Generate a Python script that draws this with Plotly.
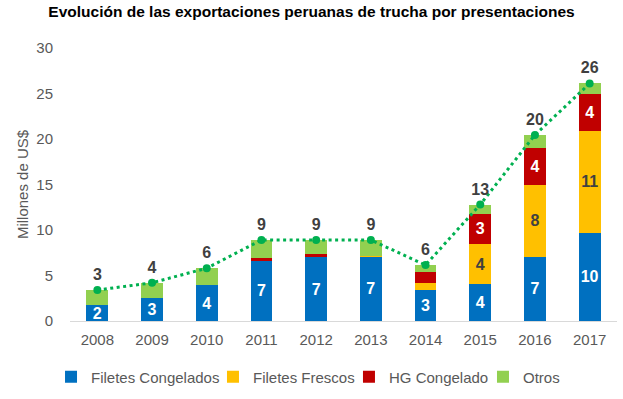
import plotly.graph_objects as go

years = ["2008", "2009", "2010", "2011", "2012", "2013", "2014", "2015", "2016", "2017"]
filetes_congelados = [1.75, 2.55, 3.95, 6.7, 7.0, 7.05, 3.4, 4.05, 7.05, 9.7]
filetes_frescos = [0, 0, 0, 0, 0, 0.1, 0.8, 4.4, 7.95, 11.2]
hg_congelado = [0, 0, 0, 0.2, 0.4, 0, 1.2, 3.35, 4.05, 4.05]
otros = [1.65, 1.65, 1.85, 2.0, 1.5, 1.75, 0.75, 1.0, 1.4, 1.15]
totales = [round(a + b + c + d, 2) for a, b, c, d in zip(filetes_congelados, filetes_frescos, hg_congelado, otros)]

FONT = "Liberation Sans, Arial, sans-serif"
GRAY = "#595959"


def labels(vals, threshold):
    return [f"{v:.0f}" if v >= threshold else "" for v in vals]


fig = go.Figure()
series = [
    ("Filetes Congelados", filetes_congelados, "#0070C0", "white", 1.0, "legend"),
    ("Filetes Frescos", filetes_frescos, "#FFC000", "#404040", 3.0, "legend2"),
    ("HG Congelado", hg_congelado, "#C00000", "white", 3.0, "legend3"),
    ("Otros", otros, "#92D050", "white", 99, "legend4"),
]
for name, vals, color, tcolor, thr, leg in series:
    fig.add_trace(go.Bar(
        x=years, y=vals, name=name, legend=leg,
        marker=dict(color=color, line=dict(width=0)),
        text=labels(vals, thr), textposition="inside", insidetextanchor="middle",
        textangle=0,
        textfont=dict(family=FONT, size=16, color=tcolor, weight="bold"),
        hoverinfo="skip",
    ))

fig.add_trace(go.Scatter(
    x=years, y=totales, mode="lines+markers+text",
    line=dict(color="#00B050", width=3, dash="3px,3.5px"),
    marker=dict(color="#00B050", size=8),
    text=[f"{v:.0f}" for v in totales], textposition="top center",
    textfont=dict(family=FONT, size=16, color="#404040", weight="bold"),
    showlegend=False, hoverinfo="skip",
))

leg_common = dict(orientation="h", xanchor="left", y=-0.145, yanchor="top",
                  itemwidth=30, bgcolor="rgba(0,0,0,0)",
                  font=dict(family=FONT, size=15, color=GRAY))

fig.update_layout(
    barmode="stack",
    bargap=0.6,
    width=623, height=399,
    margin=dict(l=70, r=6, t=48, b=78, autoexpand=False),
    paper_bgcolor="white", plot_bgcolor="white",
    font=dict(family=FONT, size=15, color=GRAY),
    title=dict(text="<b>Evolución de las exportaciones peruanas de trucha por presentaciones</b>",
               x=0.5, xanchor="center", y=0.97, yanchor="middle",
               font=dict(family=FONT, size=15.5, color="#000000")),
    uniformtext=dict(minsize=16, mode="show"),
    legend=dict(x=-0.0347, **leg_common),
    legend2=dict(x=0.2614, **leg_common),
    legend3=dict(x=0.5100, **leg_common),
    legend4=dict(x=0.7550, **leg_common),
    xaxis=dict(range=[-0.5, 9.5], showgrid=False, showline=True, linecolor="#D9D9D9", linewidth=1,
               ticks="", ticklabelstandoff=5,
               tickfont=dict(family=FONT, size=15, color=GRAY), automargin=False),
    yaxis=dict(range=[0, 30], tickvals=[0, 5, 10, 15, 20, 25, 30], showgrid=False,
               zeroline=False, showline=False, ticks="", ticklabelstandoff=16,
               tickfont=dict(family=FONT, size=15, color=GRAY), automargin=False,
               title=dict(text="Millones de US$", font=dict(family=FONT, size=15, color=GRAY), standoff=4)),
)

fig.write_html("out.html", config={"displayModeBar": False},
               post_script="document.body.style.margin='0';")
